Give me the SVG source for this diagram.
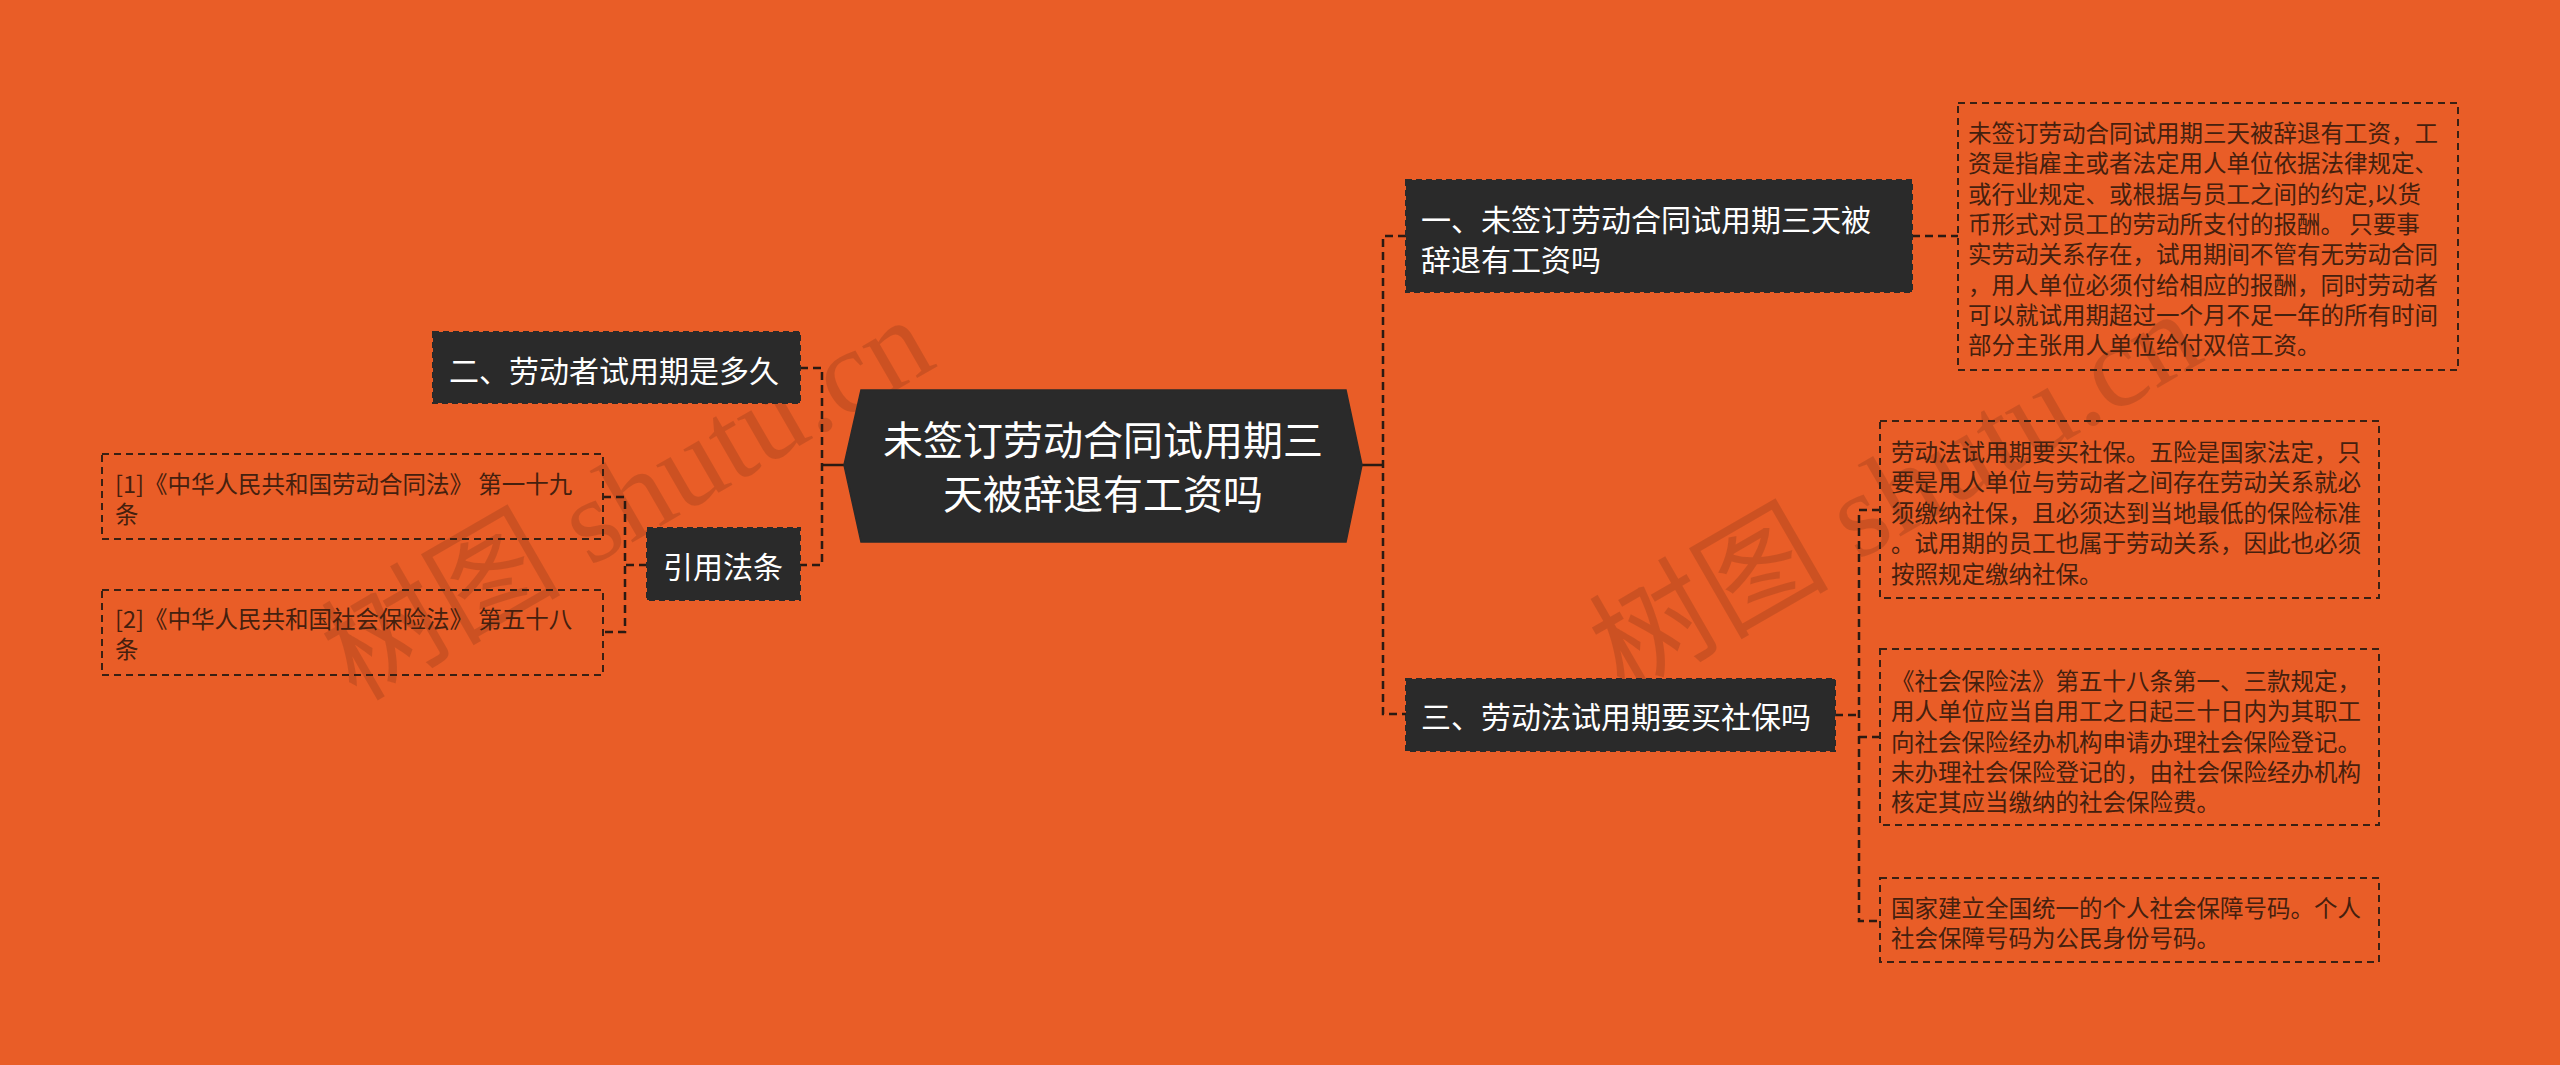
<svg xmlns="http://www.w3.org/2000/svg" width="2560" height="1065" viewBox="0 0 2560 1065">
<defs>
<style>
.bg{fill:#E95D27}
.t{font-family:"Noto Sans CJK SC","Noto Sans CJK TC",sans-serif;dominant-baseline:central}
.main{font-size:40px;fill:#ffffff;text-anchor:middle}
.lvl{font-size:30px;fill:#ffffff}
.det{font-size:23.5px;fill:#45200e}
.dark{fill:#2a2a2a;stroke:#2a2a2a;stroke-width:2;stroke-dasharray:6 4}
.hex{fill:#2a2a2a;stroke:#2a2a2a;stroke-width:1.5}
.dbox{fill:none;stroke:#3a2013;stroke-width:2;stroke-dasharray:7 5}
.con{fill:none;stroke:#2a1a12;stroke-width:2.5;stroke-dasharray:8 5}
.solid{fill:none;stroke:#2a1a12;stroke-width:2.5}
.wm{font-family:"Liberation Serif","Noto Sans CJK SC",serif;font-size:120px;fill:#000;fill-opacity:0.12}
</style>
</defs>
<rect class="bg" x="0" y="0" width="2560" height="1065"/>

<g id="watermarks">
<text class="wm" transform="translate(356,702) rotate(-30)">树图 shutu.cn</text>
<text class="wm" transform="translate(1624,696) rotate(-30)">树图 shutu.cn</text>
</g>

<g id="connectors">
<path class="solid" d="M1362 465 H1383"/>
<path class="con" d="M1406 236 H1383 V714 H1406"/>
<path class="solid" d="M844 465 H822"/>
<path class="con" d="M800 368 H822 V565 H800"/>
<path class="con" d="M1912 236 H1958"/>
<path class="con" d="M1835 715 H1859"/>
<path class="con" d="M1880 510 H1859 V921 H1880"/>
<path class="con" d="M1859 737 H1880"/>
<path class="con" d="M647 565 H625"/>
<path class="con" d="M603 497 H625 V632 H603"/>
</g>

<g id="root">
<polygon class="hex" points="844,465 861,390 1346,390 1362,465 1346,542 861,542"/>
<text class="t main" x="1103" y="438">未签订劳动合同试用期三</text>
<text class="t main" x="1103" y="492">天被辞退有工资吗</text>
</g>

<g id="node1">
<rect class="dark" x="1406" y="180" width="506" height="112"/>
<text class="t lvl" x="1421" y="218">一、未签订劳动合同试用期三天被</text>
<text class="t lvl" x="1421" y="258">辞退有工资吗</text>
</g>

<g id="node1-detail">
<rect class="dbox" x="1958" y="103" width="500" height="267"/>
<text class="t det" x="1968" y="132">未签订劳动合同试用期三天被辞退有工资，工</text>
<text class="t det" x="1968" y="162.3">资是指雇主或者法定用人单位依据法律规定、</text>
<text class="t det" x="1968" y="192.6">或行业规定、或根据与员工之间的约定,以货</text>
<text class="t det" x="1968" y="222.9">币形式对员工的劳动所支付的报酬。 只要事</text>
<text class="t det" x="1968" y="253.2">实劳动关系存在，试用期间不管有无劳动合同</text>
<text class="t det" x="1968" y="283.5">，用人单位必须付给相应的报酬，同时劳动者</text>
<text class="t det" x="1968" y="313.8">可以就试用期超过一个月不足一年的所有时间</text>
<text class="t det" x="1968" y="344.1">部分主张用人单位给付双倍工资。</text>
</g>

<g id="node3">
<rect class="dark" x="1406" y="679" width="429" height="72"/>
<text class="t lvl" x="1421" y="715">三、劳动法试用期要买社保吗</text>
</g>

<g id="node3-detail-a">
<rect class="dbox" x="1880" y="421" width="499" height="177"/>
<text class="t det" x="1891" y="451">劳动法试用期要买社保。五险是国家法定，只</text>
<text class="t det" x="1891" y="481.4">要是用人单位与劳动者之间存在劳动关系就必</text>
<text class="t det" x="1891" y="511.8">须缴纳社保，且必须达到当地最低的保险标准</text>
<text class="t det" x="1891" y="542.2">。试用期的员工也属于劳动关系，因此也必须</text>
<text class="t det" x="1891" y="572.6">按照规定缴纳社保。</text>
</g>

<g id="node3-detail-b">
<rect class="dbox" x="1880" y="649" width="499" height="176"/>
<text class="t det" x="1891" y="680">《社会保险法》第五十八条第一、三款规定，</text>
<text class="t det" x="1891" y="710.3">用人单位应当自用工之日起三十日内为其职工</text>
<text class="t det" x="1891" y="740.6">向社会保险经办机构申请办理社会保险登记。</text>
<text class="t det" x="1891" y="770.9">未办理社会保险登记的，由社会保险经办机构</text>
<text class="t det" x="1891" y="801.2">核定其应当缴纳的社会保险费。</text>
</g>

<g id="node3-detail-c">
<rect class="dbox" x="1880" y="878" width="499" height="84"/>
<text class="t det" x="1891" y="907">国家建立全国统一的个人社会保障号码。个人</text>
<text class="t det" x="1891" y="937">社会保障号码为公民身份号码。</text>
</g>

<g id="node2">
<rect class="dark" x="433" y="332" width="367" height="71"/>
<text class="t lvl" x="449" y="369">二、劳动者试用期是多久</text>
</g>

<g id="refs">
<rect class="dark" x="647" y="528" width="153" height="72"/>
<text class="t lvl" x="663" y="565">引用法条</text>
</g>

<g id="ref1">
<rect class="dbox" x="102" y="454" width="501" height="85"/>
<text class="t det" x="115" y="483">[1]《中华人民共和国劳动合同法》 第一十九</text>
<text class="t det" x="115" y="513">条</text>
</g>

<g id="ref2">
<rect class="dbox" x="102" y="590" width="501" height="85"/>
<text class="t det" x="115" y="618">[2]《中华人民共和国社会保险法》 第五十八</text>
<text class="t det" x="115" y="648">条</text>
</g>
</svg>
